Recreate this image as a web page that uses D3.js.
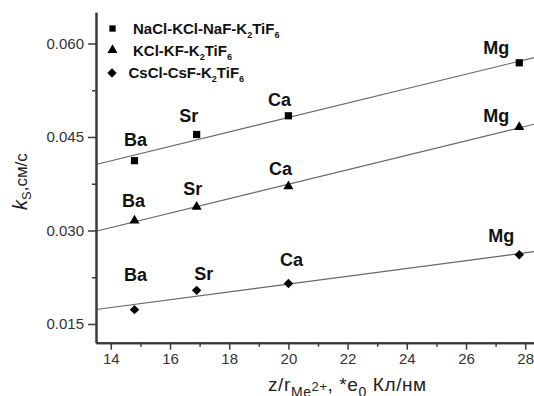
<!DOCTYPE html>
<html>
<head>
<meta charset="utf-8">
<script src="https://cdn.jsdelivr.net/npm/d3@7"></script>
<style>
  body { margin: 0; background: #fff; }
  svg { display: block; font-family: "Liberation Sans", Arial, sans-serif; }
</style>
</head>
<body>
<div id="chart"></div>
<script>
// values
var elements = ["Ba", "Sr", "Ca", "Mg"];
var zr = [14.8, 16.9, 20.0, 27.8];
var naclSeries = [0.0412, 0.0454, 0.0484, 0.0569];
var kclSeries = [0.0316, 0.0338, 0.0371, 0.0466];
var csclSeries = [0.0173, 0.0204, 0.0215, 0.0261];
var seriesNames = [
  [["NaCl-KCl-NaF-K", ""], ["2", "sub"], ["TiF", ""], ["6", "sub"]],
  [["KCl-KF-K", ""], ["2", "sub"], ["TiF", ""], ["6", "sub"]],
  [["CsCl-CsF-K", ""], ["2", "sub"], ["TiF", ""], ["6", "sub"]]
];
var xMajorTicks = [14, 16, 18, 20, 22, 24, 26, 28];
var xMinorTicks = [15, 17, 19, 21, 23, 25, 27];
var yMajorTicks = [0.015, 0.030, 0.045, 0.060];
var yMinorTicks = [0.0225, 0.0375, 0.0525];

// label placement (pixels from the point: [dx, dy])
var labelOffsets = [
  [[1, -15], [-8, -12], [-9, -10], [-23, -9]],
  [[-1, -14], [-4, -12], [-8, -11], [-23, -5]],
  [[1, -29], [7, -10], [3, -17], [-18, -13]]
];
var symbols = [d3.symbolSquare, d3.symbolTriangle, d3.symbolSquare];
var symbolSizes = [52, 44, 44];
var symbolRotate = [0, 0, 45];

var width = 534, height = 396;
var x = d3.scaleLinear().domain([13.5, 28.5]).range([96, 540]);
var y = d3.scaleLinear().domain([0.012, 0.065]).range([342.7, 12.3]);

var svg = d3.select("#chart").append("svg")
  .attr("width", width).attr("height", height);

var allSeries = [naclSeries, kclSeries, csclSeries].map(function(vals, s) {
  return vals.map(function(v, i) { return {x: zr[i], y: v, name: elements[i], s: s, i: i}; });
});

// least-squares fit lines
function fit(pts) {
  var mx = d3.mean(pts, function(d) { return d.x; });
  var my = d3.mean(pts, function(d) { return d.y; });
  var sxy = d3.sum(pts, function(d) { return (d.x - mx) * (d.y - my); });
  var sxx = d3.sum(pts, function(d) { return (d.x - mx) * (d.x - mx); });
  var b = sxy / sxx;
  return function(v) { return my + b * (v - mx); };
}

var line = d3.line().x(function(d) { return x(d[0]); }).y(function(d) { return y(d[1]); });
allSeries.forEach(function(pts) {
  var f = fit(pts);
  var dom = x.domain();
  svg.append("path")
    .attr("d", line([[dom[0], f(dom[0])], [dom[1], f(dom[1])]]))
    .attr("fill", "none")
    .attr("stroke", "#666")
    .attr("stroke-width", 1.1);
});

// axes
function styleAxis(g) {
  g.selectAll("path.domain").attr("stroke", "#3a3a3a").attr("stroke-width", 2);
  g.selectAll(".tick line").attr("stroke", "#3a3a3a").attr("stroke-width", 1.5);
  g.selectAll(".tick text").attr("fill", "#333").attr("font-size", 15);
}

svg.append("g")
  .attr("transform", "translate(0," + y.range()[0] + ")")
  .call(d3.axisBottom(x).tickValues(xMinorTicks).tickSize(4).tickSizeOuter(0).tickFormat(""))
  .call(styleAxis);
svg.append("g")
  .attr("transform", "translate(0," + y.range()[0] + ")")
  .call(d3.axisBottom(x).tickValues(xMajorTicks).tickSize(7).tickSizeOuter(0).tickPadding(4))
  .call(styleAxis);

svg.append("g")
  .attr("transform", "translate(" + x.range()[0] + ",0)")
  .call(d3.axisLeft(y).tickValues(yMinorTicks).tickSize(4).tickSizeOuter(0).tickFormat(""))
  .call(styleAxis);
svg.append("g")
  .attr("transform", "translate(" + x.range()[0] + ",0)")
  .call(d3.axisLeft(y).tickValues(yMajorTicks).tickSize(8).tickSizeOuter(0).tickPadding(4).tickFormat(d3.format(".3f")))
  .call(styleAxis);

// points
allSeries.forEach(function(pts, s) {
  svg.selectAll(".pt" + s)
    .data(pts)
    .enter().append("path")
    .attr("class", "pt" + s)
    .attr("transform", function(d) { return "translate(" + x(d.x) + "," + y(d.y) + ") rotate(" + symbolRotate[s] + ")"; })
    .attr("d", d3.symbol().type(symbols[s]).size(symbolSizes[s]))
    .attr("fill", "#000");

  svg.selectAll(".lbl" + s)
    .data(pts)
    .enter().append("text")
    .attr("class", "lbl" + s)
    .attr("x", function(d) { return x(d.x) + labelOffsets[s][d.i][0]; })
    .attr("y", function(d) { return y(d.y) + labelOffsets[s][d.i][1]; })
    .attr("text-anchor", "middle")
    .attr("font-size", 18)
    .attr("font-weight", "bold")
    .attr("fill", "#111")
    .text(function(d) { return d.name; });
});

// legend
var legendRows = [{mx: 112.5, my: 28.5, tx: 133, ty: 33.5}, {mx: 112.5, my: 50, tx: 133, ty: 55.5}, {mx: 112, my: 73, tx: 128.5, ty: 78}];
legendRows.forEach(function(r, s) {
  svg.append("path")
    .attr("transform", "translate(" + r.mx + "," + r.my + ") rotate(" + symbolRotate[s] + ")")
    .attr("d", d3.symbol().type(symbols[s]).size(s === 0 ? 40 : 44))
    .attr("fill", "#000");
  var t = svg.append("text")
    .attr("x", r.tx).attr("y", r.ty)
    .attr("font-size", 15)
    .attr("font-weight", "bold")
    .attr("fill", "#111");
  var shift = 0;
  seriesNames[s].forEach(function(part) {
    var dy = part[1] === "sub" ? 4 - shift : -shift;
    t.append("tspan")
      .attr("dy", dy)
      .attr("font-size", part[1] === "sub" ? 9 : 15)
      .text(part[0]);
    shift = part[1] === "sub" ? 4 : 0;
  });
});

// axis titles
var xt = svg.append("text")
  .attr("x", 268).attr("y", 391)
  .attr("font-size", 19)
  .attr("letter-spacing", 0.6)
  .attr("fill", "#222");
xt.append("tspan").text("z/r");
xt.append("tspan").attr("dy", 6).attr("font-size", 14).text("Me");
xt.append("tspan").attr("dy", -6).attr("font-size", 13).text("2+");
xt.append("tspan").text(", *e");
xt.append("tspan").attr("dy", 6).attr("font-size", 14).text("0");
xt.append("tspan").attr("dy", -6).text(" Кл/нм");

var yt = svg.append("text")
  .attr("transform", "translate(27,210) rotate(-90)")
  .attr("font-size", 17)
  .attr("fill", "#222");
yt.append("tspan").attr("font-style", "italic").attr("font-size", 20).text("k");
yt.append("tspan").attr("dy", 4).attr("font-size", 13).text("S");
yt.append("tspan").attr("dy", -4).text(",см/с");
</script>
</body>
</html>
